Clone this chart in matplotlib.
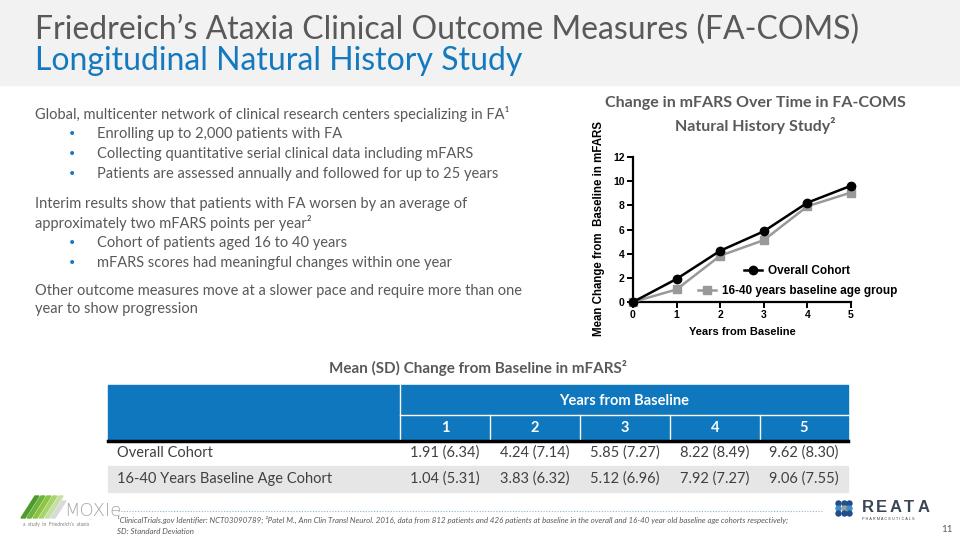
import matplotlib.pyplot as plt
from matplotlib.patches import Rectangle, Polygon

years = [0, 1, 2, 3, 4, 5]
overall = [0, 1.91, 4.24, 5.85, 8.22, 9.62]
young = [0, 1.04, 3.83, 5.12, 7.92, 9.06]
series_labels = ["Overall Cohort", "16-40 years baseline age group"]

col_years = ["1", "2", "3", "4", "5"]
row_labels = ["Overall Cohort", "16-40 Years Baseline Age Cohort"]
overall_sd = [6.34, 7.14, 7.27, 8.49, 8.30]
young_sd = [5.31, 6.32, 6.96, 7.27, 7.55]

bullets1 = ["Enrolling up to 2,000 patients with FA",
            "Collecting quantitative serial clinical data including mFARS",
            "Patients are assessed annually and followed for up to 25 years"]
bullets2 = ["Cohort of patients aged 16 to 40 years",
            "mFARS scores had meaningful changes within one year"]

BLUE = '#1479BE'
GREY = '#595959'
FONT = 'Lato'

fig = plt.figure(figsize=(9.6, 5.4), dpi=100)
bg = fig.add_axes([0, 0, 1, 1])
bg.set_xlim(0, 960)
bg.set_ylim(540, 0)
bg.axis('off')

# header band
bg.add_patch(Rectangle((0, 0), 960, 85, color='#F2F2F2', zorder=0))
bg.text(35, 30, "Friedreich\u2019s Ataxia Clinical Outcome Measures (FA-COMS)",
        fontsize=23, color=GREY, family=FONT, va='center')
bg.text(35, 61, "Longitudinal Natural History Study",
        fontsize=23, color=BLUE, family=FONT, va='center')

# left text block
txt = dict(fontsize=10.5, color=GREY, family=FONT, va='center')
bg.text(35, 114, "Global, multicenter network of clinical research centers specializing in FA\u00b9", **txt)
for i, b in enumerate(bullets1):
    y = 134 + i * 20
    bg.text(68, y, "\u2022", fontsize=10, color=BLUE, va='center')
    bg.text(97, y, b, **txt)
bg.text(35, 204, "Interim results show that patients with FA worsen by an average of", **txt)
bg.text(35, 223, "approximately two mFARS points per year\u00b2", **txt)
for i, b in enumerate(bullets2):
    y = 243 + i * 20
    bg.text(68, y, "\u2022", fontsize=10, color=BLUE, va='center')
    bg.text(97, y, b, **txt)
bg.text(35, 291, "Other outcome measures move at a slower pace and require more than one", **txt)
bg.text(35, 309, "year to show progression", **txt)

# chart title
bg.text(755, 103, "Change in mFARS Over Time in FA-COMS", fontsize=11.5, weight='bold',
        color=GREY, family=FONT, ha='center', va='center')
bg.text(755, 126, "Natural History Study\u00b2", fontsize=11.5, weight='bold',
        color=GREY, family=FONT, ha='center', va='center')

# line chart
ax = fig.add_axes([633 / 960, 1 - 302 / 540, 218 / 960, 145 / 540])
l1, = ax.plot(years, overall, '-o', color='black', lw=1.8, ms=6, clip_on=False,
              label=series_labels[0], zorder=4)
l2, = ax.plot(years, young, '-s', color='#999999', lw=1.8, ms=5.5, clip_on=False,
              label=series_labels[1], zorder=3)
ax.set_xlim(0, 5)
ax.set_ylim(0, 12)
ax.set_xticks(years)
ax.set_yticks(range(0, 13, 2))
for s in ['top', 'right']:
    ax.spines[s].set_visible(False)
for s in ['left', 'bottom']:
    ax.spines[s].set_linewidth(1.6)
ax.tick_params(width=1.4, length=4, labelsize=7.5, pad=2)
for lab in ax.get_xticklabels() + ax.get_yticklabels():
    lab.set_fontweight('bold')
    lab.set_family('Liberation Sans')
ax.set_xlabel("Years from Baseline", fontsize=8, weight='bold', family='Liberation Sans', labelpad=5)
ax.set_ylabel("Mean Change from  Baseline in mFARS", fontsize=8.3, weight='bold',
              family='Liberation Sans')
ax.yaxis.set_label_coords(-0.13, 0.51)
lp = {'family': 'Liberation Sans', 'weight': 'bold', 'size': 8.5}
leg1 = ax.legend([l1], [series_labels[0]], loc='center right', bbox_to_anchor=(0.995, 0.214),
                 frameon=False, prop=lp, handlelength=1.5, handletextpad=0.5, borderpad=0,
                 borderaxespad=0)
ax.add_artist(leg1)
ax.legend([l2], [series_labels[1]], loc='center right', bbox_to_anchor=(1.211, 0.076),
          frameon=False, prop=lp, handlelength=1.5, handletextpad=0.5, borderpad=0,
          borderaxespad=0)

# table
bg.text(478, 368, "Mean (SD) Change from Baseline in mFARS\u00b2", fontsize=11, weight='bold',
        color=GREY, family=FONT, ha='center', va='center')
x0, x1 = 108, 848
edges = [400, 490, 580, 670, 760, 848]
bg.add_patch(Rectangle((x0, 385), x1 - x0, 55, color='#0E77BD', zorder=1))
bg.plot([400, 400], [385, 440], color='white', lw=1, zorder=2)
bg.plot([400, x1], [415, 415], color='white', lw=1, zorder=2)
for e in edges[1:-1]:
    bg.plot([e, e], [415, 440], color='white', lw=1, zorder=2)
bg.text((400 + x1) / 2, 401, "Years from Baseline", fontsize=10.5, weight='bold',
        color='white', family=FONT, ha='center', va='center', zorder=3)
for i, c in enumerate(col_years):
    bg.text((edges[i] + edges[i + 1]) / 2, 428, c, fontsize=10.5, weight='bold',
            color='white', family=FONT, ha='center', va='center', zorder=3)
bg.add_patch(Rectangle((x0, 466), x1 - x0, 26, color='#E6E6E6', zorder=1))
bg.plot([x0, x1], [440.5, 440.5], color='black', lw=2.5, zorder=2)
rows = [(overall[1:], overall_sd), (young[1:], young_sd)]
for r, (lab, (means, sds)) in enumerate(zip(row_labels, rows)):
    y = 453 + r * 26
    bg.text(117, y, lab, fontsize=10.5, color='#404040', family=FONT, va='center', zorder=3)
    for i in range(5):
        bg.text((edges[i] + edges[i + 1]) / 2, y, f"{means[i]:.2f} ({sds[i]:.2f})",
                fontsize=10.5, color='#404040', family=FONT, ha='center', va='center', zorder=3)

# footer
bg.plot([118, 823], [511, 511], color='#8FB4D0', lw=0.8, ls=(0, (1, 1.5)))
bg.text(117, 520, "\u00b9ClinicalTrials.gov Identifier: NCT03090789; \u00b2Patel M., Ann Clin Transl Neurol. 2016, "
        "data from 812 patients and 426 patients at baseline in the overall and 16-40 year old baseline age cohorts respectively;",
        fontsize=5.7, style='italic', color=GREY, family=FONT, va='center')
bg.text(117, 531, "SD: Standard Deviation", fontsize=5.7, style='italic', color=GREY, family=FONT, va='center')
bg.text(953, 529, "11", fontsize=7, color=GREY, family=FONT, ha='right', va='center')

# MOXIe logo
greens = ['#4E9A2E', '#6DB33F', '#8CC63F', '#A8D46F', '#C5E1A5']
for i, g in enumerate(greens):
    xs = 21 + i * 6
    bg.add_patch(Polygon([(xs, 518), (xs + 4, 518), (xs + 18, 496), (xs + 14, 496)], color=g))
bg.add_patch(Polygon([(51, 518), (55, 518), (66, 501), (62, 501)], color='#D9D9D9'))
bg.text(64, 511, "MOXIe", fontsize=13, color='#A6A6A6', family='DejaVu Sans', weight='light', va='center')
bg.text(23, 524, "a  study  in  Friedreich\u2019s  ataxia", fontsize=3.5, color='#7F7F7F', family=FONT, va='center')

# REATA logo
dot_cols = [['#1F4E8C', '#3C8DC8', '#1F4E8C'],
            ['#1F4E8C', '#9E9E9E', '#1F4E8C'],
            ['#1F4E8C', '#3C8DC8', '#1F4E8C']]
for i in range(3):
    for j in range(3):
        bg.plot(838 + i * 5.5, 503 + j * 5, 'o', color=dot_cols[i][j], ms=3.6)
for i, ch in enumerate("REATA"):
    bg.text(862 + i * 14, 508, ch, fontsize=12, weight='bold', color='#3B4756',
            family='Liberation Sans', va='center')
bg.text(862, 519, "P H A R M A C E U T I C A L S", fontsize=2.8, color='#3B4756',
        family='Liberation Sans', va='center')

plt.savefig("out.png", dpi=100)
